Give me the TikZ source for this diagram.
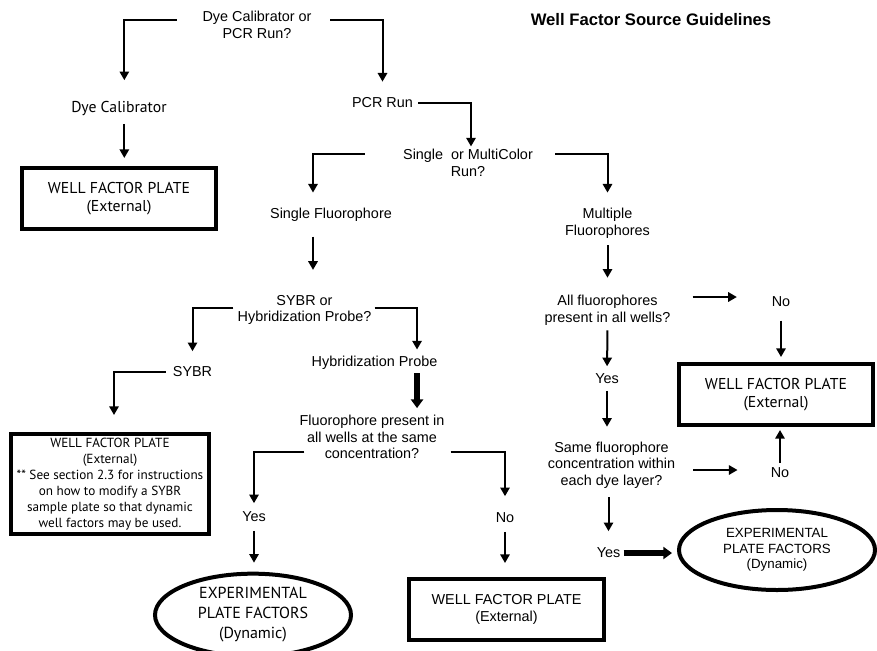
\documentclass[tikz,border=0pt]{standalone}
\usepackage{fontspec}
\newfontfamily\helv{Liberation Sans}
\newfontfamily\myr{PT Sans}
\usetikzlibrary{arrows.meta,shapes.geometric}

\newcommand{\hfont}{\helv\fontsize{10.8}{12.5}\selectfont}
\newcommand{\mfont}{\myr\fontsize{11.8}{13.5}\selectfont}

\tikzset{
  txt/.style={font=\hfont, align=center, inner sep=0pt},
  mtxt/.style={font=\mfont, align=center, inner sep=0pt},
  plate/.style={draw, line width=3pt, minimum width=146pt, minimum height=45.75pt,
    align=center, inner sep=0pt, font=\mfont},
  dynamic/.style={draw, ellipse, line width=3pt, minimum width=147pt, minimum height=59pt,
    align=center, inner sep=0pt, font=\mfont},
  arr/.style={line width=1.5pt, -{Triangle[length=6.5pt,width=7pt]}},
  bigarr/.style={line width=4pt, -{Triangle[length=6.5pt,width=9pt]}},
}

\begin{document}
\begin{tikzpicture}[x=0.75pt, y=-0.75pt]
\useasboundingbox (0,0) rectangle (877,650);

\node[txt, font=\helv\bfseries\fontsize{12.5}{15}\selectfont] (title) at (651,20) {Well Factor Source Guidelines};

\node[txt] (q1) at (257,25) {Dye Calibrator or\\PCR Run?};
\node[mtxt] (dyecal) at (119,109) {Dye Calibrator};
\node[plate] (box1) at (119,198.5) {WELL FACTOR PLATE\\(External)};
\node[txt] (pcr) at (382.5,103) {PCR Run};
\node[txt] (q2) at (468,163) {Single\ \ or MultiColor\\Run?};
\node[txt] (single) at (331,215) {Single Fluorophore};
\node[txt] (multi) at (607.5,223.5) {Multiple\\Fluorophores};
\node[txt] (q3) at (304.5,310) {SYBR or\\Hybridization Probe?};
\node[txt] (sybr) at (192.5,372) {SYBR};
\node[txt] (hyb) at (374.5,363) {Hybridization Probe};
\node[plate, minimum width=149pt, minimum height=75pt, font=\myr\fontsize{9.9}{12}\selectfont] (box2) at (110,484)
  {WELL FACTOR PLATE\\(External)\\** See section 2.3 for instructions\\on how to modify a SYBR\\sample plate so that dynamic\\well factors may be used.};
\node[txt] (q4) at (372,437) {Fluorophore present in\\all wells at the same\\concentration?};
\node[txt] (yes1) at (254,517) {Yes};
\node[txt] (no1) at (505,518) {No};
\node[dynamic, minimum height=62pt, font=\myr\fontsize{12}{15}\selectfont] (ell1) at (253,615) {EXPERIMENTAL\\PLATE FACTORS\\(Dynamic)};
\node[plate, font=\hfont] (box3) at (506.5,609.5) {WELL FACTOR PLATE\\(External)};
\node[txt] (q5) at (607.5,310) {All fluorophores\\present in all wells?};
\node[txt] (no2) at (781,302) {No};
\node[plate] (box4) at (776,394.5) {WELL FACTOR PLATE\\(External)};
\node[txt] (yes2) at (607,379) {Yes};
\node[txt] (q6) at (611.5,465) {Same fluorophore\\concentration within\\each dye layer?};
\node[txt] (no3) at (780,473) {No};
\node[txt] (yes3) at (608.5,553) {Yes};
\node[dynamic, minimum height=60pt, font=\helv\fontsize{10}{11.5}\selectfont] (ell2) at (777,550) {EXPERIMENTAL\\PLATE FACTORS\\(Dynamic)};

\draw[arr, shorten <=19pt, shorten >=16pt] ([yshift=3.75pt]q1.west) -| ([xshift=4pt]dyecal.north);
\draw[arr, shorten <=14pt, shorten >=12pt] ([yshift=3.75pt]q1.east) -| (pcr.north);
\draw[arr, shorten <=5.5pt, shorten >=6pt] ([xshift=4pt]dyecal.south) -- ([xshift=4pt]dyecal.south |- box1.north);
\draw[arr, shorten <=3.75pt, shorten >=2pt] (pcr.east) -| ([xshift=2.25pt]q2.north);
\draw[arr, shorten <=28.5pt, shorten >=11.6pt] ([yshift=6.75pt]q2.west) -| ([xshift=-13.5pt]single.north);
\draw[arr, shorten <=16.5pt, shorten >=11.7pt] ([yshift=6.75pt]q2.east) -| (multi.north);
\draw[arr, shorten <=10.9pt, shorten >=18.75pt] ([xshift=-13.5pt]single.south) -- ([xshift=-13.5pt]single.south |- q3.north);
\draw[arr, shorten <=5pt, shorten >=12.75pt] (multi.south) -- (q5.north);
\draw[arr, shorten <=3pt, shorten >=11.6pt] ([yshift=1.5pt]q3.west) -| (sybr.north);
\draw[arr, shorten <=2.25pt, shorten >=4.9pt] ([yshift=1.5pt]q3.east) -| ([xshift=31.9pt]hyb.north);
\draw[arr, shorten <=5.25pt, shorten >=12.75pt] (sybr.west) -| ([xshift=3pt]box2.north);
\draw[bigarr, shorten <=2.6pt, shorten >=5pt] ([xshift=31.9pt]hyb.south) -- ([xshift=31.9pt]hyb.south |- q4.north);
\draw[arr, shorten >=6.4pt] ([xshift=3.75pt,yshift=-11.25pt]q4.west) -| (yes1.north);
\draw[arr, shorten >=12.4pt] ([xshift=4.5pt,yshift=-11.25pt]q4.east) -| (no1.north);
\draw[arr, shorten <=6.4pt, shorten >=6.75pt] (yes1.south) -- (yes1.south |- ell1.north);
\draw[arr, shorten <=6.4pt, shorten >=10.5pt] (no1.south) -- (no1.south |- box3.north);
\draw[arr, shorten <=16.5pt, shorten >=26pt] ([yshift=9.75pt]q5.east) -- ([yshift=9.75pt]q5.east -| no2.west);
\draw[arr, shorten <=10pt, shorten >=3.75pt] (no2.south) -- (no2.south |- box4.north);
\draw[arr, shorten <=3.75pt, shorten >=5.6pt] (q5.south) -- (yes2.north);
\draw[arr, shorten <=4.9pt, shorten >=11pt] (yes2.south) -- (yes2.south |- q6.north);
\draw[arr, shorten <=13.5pt, shorten >=24.75pt] ([yshift=-3.75pt]q6.east) -- ([yshift=-3.75pt]q6.east -| no3.west);
\draw[arr, shorten <=3.4pt, shorten >=2.25pt] (no3.north) -- (no3.north |- box4.south);
\draw[arr, shorten <=6.6pt, shorten >=12.4pt] (q6.south -| yes3.north) -- (yes3.north);
\draw[bigarr, shorten <=2.25pt, shorten >=3.75pt] (yes3.east) -- (yes3.east -| ell2.west);
\end{tikzpicture}
\end{document}
